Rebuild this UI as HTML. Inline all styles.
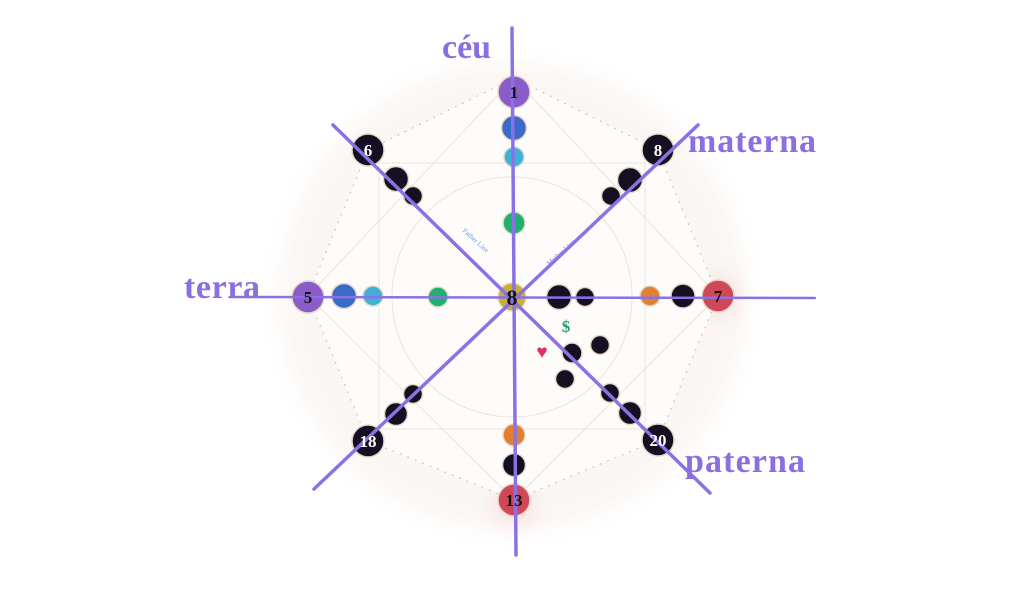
<!DOCTYPE html>
<html><head><meta charset="utf-8"><style>
html,body{margin:0;padding:0;background:#fff;}
svg{display:block}
text{font-family:"Liberation Serif",serif;}
</style></head><body>
<svg width="1024" height="615" viewBox="0 0 1024 615" xmlns="http://www.w3.org/2000/svg">
<defs>
<radialGradient id="glow" cx="50%" cy="50%" r="50%">
<stop offset="0.7" stop-color="#f6eee8" stop-opacity="0.5"/>
<stop offset="0.88" stop-color="#f2e8e0" stop-opacity="0.35"/>
<stop offset="1" stop-color="#fff" stop-opacity="0"/>
</radialGradient>
<radialGradient id="rg" cx="50%" cy="50%" r="50%"><stop offset="0" stop-color="#f0a0a8" stop-opacity="0.35"/><stop offset="1" stop-color="#fff" stop-opacity="0"/></radialGradient>
</defs>
<ellipse cx="513" cy="297" rx="255" ry="255" fill="url(#glow)"/>
<circle cx="718" cy="296" r="45" fill="url(#rg)"/>
<circle cx="514" cy="505" r="45" fill="url(#rg)"/>
<polygon points="514,78 658,150 718,296 658,440 514,500 368,441 308,296 368,150" fill="#fefcfb" stroke="#dcc4b0" stroke-width="1.2" stroke-dasharray="2 6"/>
<g stroke="#ece3d8" stroke-width="1" fill="none">
<rect x="379" y="163" width="266" height="266"/>
<circle cx="512" cy="297" r="120"/>
<polygon points="514,78 718,296 514,500 308,296"/>
</g>
<text x="455" y="240" font-size="7" fill="#6a9ae0" font-family="Liberation Sans" transform="rotate(42 470 245)">Father Line</text>
<text x="540" y="258" font-size="7" fill="#b070d0" font-family="Liberation Sans" transform="rotate(-42 555 250)">Mother Line</text>
<g stroke="#e8d8c8" stroke-width="1.5">
<circle cx="514" cy="92" r="16" fill="#8a5cc8"/>
<circle cx="514" cy="128" r="12.5" fill="#3a6bc8"/>
<circle cx="514" cy="157" r="10" fill="#40b0d8"/>
<circle cx="514" cy="223" r="11" fill="#1fb070"/>
<circle cx="308" cy="297" r="16" fill="#8a5cc8"/>
<circle cx="344" cy="296" r="12.5" fill="#3a6bc8"/>
<circle cx="373" cy="296" r="10" fill="#40b0d8"/>
<circle cx="438" cy="297" r="10" fill="#1fb070"/>
<circle cx="512" cy="297" r="14" fill="#c8b030"/>
<circle cx="559" cy="297" r="12.5" fill="#150f22"/>
<circle cx="585" cy="297" r="9.5" fill="#150f22"/>
<circle cx="650" cy="296" r="10" fill="#e08030"/>
<circle cx="683" cy="296" r="12" fill="#150f22"/>
<circle cx="718" cy="296" r="16" fill="#d04858"/>
<circle cx="514" cy="435" r="11" fill="#e08030"/>
<circle cx="514" cy="465" r="11.5" fill="#150f22"/>
<circle cx="514" cy="500" r="16" fill="#d04858"/>
<circle cx="368" cy="150" r="16" fill="#150f22"/>
<circle cx="396" cy="179" r="12.5" fill="#150f22"/>
<circle cx="413" cy="196" r="9.5" fill="#150f22"/>
<circle cx="658" cy="150" r="16" fill="#150f22"/>
<circle cx="630" cy="180" r="12.5" fill="#150f22"/>
<circle cx="611" cy="196" r="9.5" fill="#150f22"/>
<circle cx="572" cy="353" r="10" fill="#150f22"/>
<circle cx="600" cy="345" r="9.5" fill="#150f22"/>
<circle cx="565" cy="379" r="9.5" fill="#150f22"/>
<circle cx="610" cy="393" r="9.5" fill="#150f22"/>
<circle cx="630" cy="413" r="11.5" fill="#150f22"/>
<circle cx="658" cy="440" r="16" fill="#150f22"/>
<circle cx="413" cy="394" r="9.5" fill="#150f22"/>
<circle cx="396" cy="414" r="11.5" fill="#150f22"/>
<circle cx="368" cy="441" r="16" fill="#150f22"/>
</g>
<g stroke="#8a72e6" stroke-linecap="round" fill="none">
<line x1="512" y1="28" x2="516" y2="555" stroke-width="3.5"/>
<line x1="230" y1="297" x2="815" y2="298" stroke-width="2.5"/>
<line x1="333" y1="125" x2="710" y2="493" stroke-width="3.5"/>
<line x1="698" y1="125" x2="314" y2="489" stroke-width="3.5"/>
</g>
<g font-weight="bold" text-anchor="middle" font-size="17">
<text x="514" y="98" fill="#111">1</text>
<text x="308" y="303" fill="#111">5</text>
<text x="718" y="302" fill="#111">7</text>
<text x="514" y="506" fill="#111">13</text>
<text x="512" y="305" fill="#111" font-size="22">8</text>
<text x="368" y="156" fill="#fff">6</text>
<text x="658" y="156" fill="#fff">8</text>
<text x="658" y="446" fill="#fff">20</text>
<text x="368" y="447" fill="#fff">18</text>
</g>
<text x="566" y="332" font-size="17" font-weight="bold" fill="#20a070" text-anchor="middle" font-family="Liberation Sans">$</text>
<text x="542" y="358" font-size="19" fill="#e03060" text-anchor="middle" font-family="DejaVu Sans">♥</text>
<g fill="#8b6fe0" font-weight="bold" font-size="34">
<text x="442" y="58">céu</text>
<text x="688" y="152" textLength="128">materna</text>
<text x="184" y="298" textLength="76">terra</text>
<text x="685" y="472" textLength="120">paterna</text>
</g>
</svg>
</body></html>
